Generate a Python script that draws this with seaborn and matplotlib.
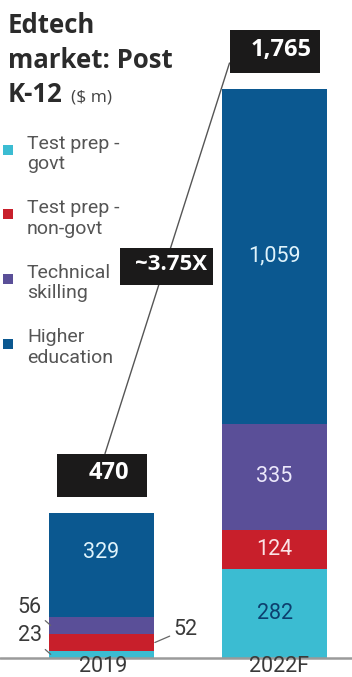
import matplotlib
matplotlib.use("Agg")
import matplotlib.pyplot as plt
from matplotlib.patches import Rectangle
import seaborn as sns
import pandas as pd
import numpy as np

# ---- data ----
years = ["2019", "2022F"]
segments = ["Test prep -\ngovt", "Test prep -\nnon-govt", "Technical\nskilling", "Higher\neducation"]
govt = [23, 282]
non_govt = [52, 124]
technical = [56, 335]
higher_ed = [329, 1059]
totals = [470, 1765]
total_labels = ["470", "1,765"]
growth_label = "~3.75X"

colors = ["#3bbcd2", "#c81f2b", "#5a4f98", "#0b5890"]
label_colors = ["#0d3f6e", "#fbe3e6", "#ece8fb", "#dff3fb"]

sns.set_theme(style="white")
plt.rcParams["font.family"] = ["Roboto", "DejaVu Sans"]

fig = plt.figure(figsize=(3.52, 6.77), dpi=100)
ax = fig.add_axes([0, 0, 1, 1])

layers = [govt, non_govt, technical, higher_ed]
cum = np.cumsum(np.array(layers), axis=0)  # shape (4, 2)

BAR_W = 0.607
# Draw from the top layer downward so lower layers overlap
for i in range(3, -1, -1):
    df = pd.DataFrame({"year": years, "value": cum[i]})
    sns.barplot(data=df, x="year", y="value", color=colors[i], saturation=1,
                width=BAR_W, linewidth=0, ax=ax, zorder=2)

# axis scaling (px -> data)
PX_X = 1 / 173.0
PX_Y = 1 / 0.3161
ax.set_xlim(-101.5 * PX_X, 1 + 77.5 * PX_X)
ax.set_ylim(-19 * PX_Y, 658 * PX_Y)
ax.axis("off")

# baseline
ax.axhline(0, color="#9a9a9a", lw=1.8, zorder=3)

# x category labels
for i, y in enumerate(years):
    ax.text(i + (1.5 if i == 0 else 5) * PX_X, -13.5 * PX_Y, y, ha="center", va="baseline",
            fontsize=15.5, color="#3a3a3a", zorder=4)

# segment labels inside bars (skip small 2019 ones)
bottoms = np.vstack([np.zeros(2), cum[:-1]])
for li, layer in enumerate(layers):
    for i in range(2):
        if i == 0 and li < 3:
            continue
        yc = bottoms[li][i] + layer[i] / 2
        if i == 0 and li == 3:
            yc += 12 * PX_Y
        txt = f"{layer[i]:,}"
        ax.text(i, yc, txt, ha="center", va="center", fontsize=15.5,
                color=label_colors[li], zorder=5)

# outside labels for small 2019 segments with leader lines
left_edge = -BAR_W / 2
right_edge = BAR_W / 2
small = [
    # value, target y, text x, text y, target x, ha
    (technical[0], bottoms[2][0] + technical[0] * 0.5, -0.344, bottoms[2][0] + technical[0] + 30,
     left_edge + 0.01, "right"),
    (govt[0], bottoms[0][0] + govt[0] * 0.5, -0.344, bottoms[0][0] + 70,
     left_edge + 0.01, "right"),
    (non_govt[0], bottoms[1][0] + non_govt[0] * 0.5, 0.413, bottoms[1][0] + non_govt[0] + 15,
     right_edge + 0.005, "left"),
]
for val, ytarget, xtext, ytext, xtarget, ha in small:
    ax.annotate(str(val), xy=(xtarget, ytarget),
                xytext=(xtext, ytext), textcoords="data",
                ha=ha, va="center", fontsize=15.5, color="#3a3a3a",
                arrowprops=dict(arrowstyle="-", color="#666666", lw=0.9,
                                shrinkA=0, shrinkB=0), zorder=5)

# total boxes
BOX_W = 90 * PX_X
BOX_H = 43 * PX_Y
GAP = 16 * PX_Y
bar_tops = cum[-1]
box_tops = []
for i in range(2):
    b = bar_tops[i] + GAP
    ax.add_patch(Rectangle((i - BOX_W / 2, b), BOX_W, BOX_H, facecolor="#1b1a1a",
                           edgecolor="none", zorder=6))
    ax.text(i + 7 * PX_X, b + BOX_H / 2 + 2 * PX_Y, total_labels[i], ha="center", va="center",
            fontsize=17, fontweight="bold", color="white",
            family=["Open Sans", "DejaVu Sans"], zorder=7)
    box_tops.append(b + BOX_H)

# growth line
x0, y0 = 0 + 3.5 * PX_X, box_tops[0]
x1, y1 = 1 - BOX_W / 2, bar_tops[1] + GAP + 10 * PX_Y
ax.plot([x0, x1], [y0, y1], color="#555555", lw=1.0, zorder=4)
t = 0.48
gx, gy = x0 + t * (x1 - x0) + 2 * PX_X, y0 + t * (y1 - y0)
GW, GH = 93 * PX_X, 37 * PX_Y
ax.add_patch(Rectangle((gx - GW / 2, gy - GH / 2), GW, GH, facecolor="#1b1a1a",
                       edgecolor="none", zorder=6))
ax.text(gx + 4 * PX_X, gy + 2 * PX_Y, growth_label, ha="center", va="center", fontsize=16,
        fontweight="bold", color="white", family=["Open Sans", "DejaVu Sans"], zorder=7)

# title
title_kw = dict(fontsize=18.5, fontweight="bold", color="#2b2b2b",
                family=["Open Sans", "DejaVu Sans"], transform=fig.transFigure, va="baseline")
fig.text(8 / 352, 1 - 33 / 677, "Edtech", **title_kw)
fig.text(8 / 352, 1 - 68 / 677, "market: Post", **title_kw)
fig.text(8 / 352, 1 - 102 / 677, "K-12", **title_kw)
fig.text(71 / 352, 1 - 101 / 677, "($ m)", fontsize=12.5, color="#444444",
         family=["Open Sans", "DejaVu Sans"], transform=fig.transFigure, va="baseline")

# legend
for k, lab in enumerate(segments):
    yc = 150 + 64.5 * k
    fig.patches.append(Rectangle((3 / 352, 1 - (yc + 5) / 677), 10 / 352, 10 / 677,
                                 facecolor=colors[k], edgecolor="none",
                                 transform=fig.transFigure, figure=fig))
    fig.text(27 / 352, 1 - (yc + 4) / 677, lab, fontsize=14, color="#555555",
             va="center", ha="left", linespacing=1.2, transform=fig.transFigure)

fig.savefig("out.png", dpi=100, facecolor="white")
